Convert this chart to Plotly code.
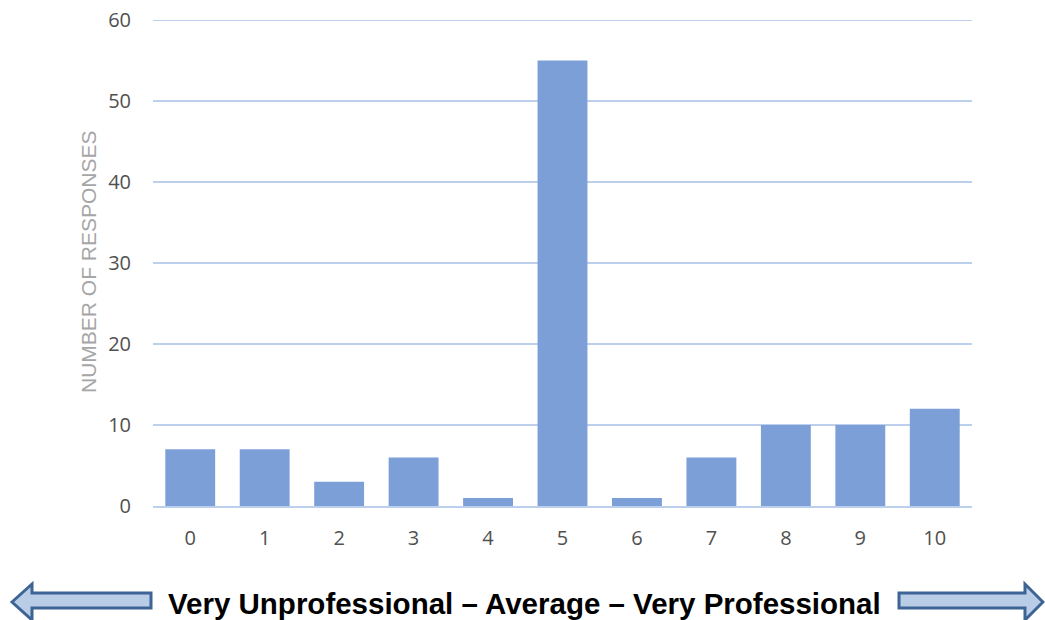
import plotly.graph_objects as go

# Rating scale and number of responses per rating
ratings = ["0", "1", "2", "3", "4", "5", "6", "7", "8", "9", "10"]
responses = [7, 7, 3, 6, 1, 55, 1, 6, 10, 10, 12]
y_ticks = [0, 10, 20, 30, 40, 50, 60]

W, H = 1045, 620
L, R, T, B = 153, 73, 20, 114
PW, PH = W - L - R, H - T - B
GRID = "#bcd0ee"


def px(x):
    return (x - L) / PW


def py(y):
    return (H - B - y) / PH


def arrow_path(points):
    pts = [f"{px(x):.5f},{py(y):.5f}" for x, y in points]
    return "M " + " L ".join(pts) + " Z"


fig = go.Figure(
    go.Bar(
        x=ratings,
        y=responses,
        marker=dict(color="#7b9fd6", line=dict(width=0)),
        hoverinfo="x+y",
    )
)

arrow_fill = "#b9cde6"
arrow_line = "#3d6494"
left_arrow = [(12, 602), (32, 584), (32, 593), (151, 593), (151, 608), (32, 608), (32, 620)]
right_arrow = [(899, 593), (1025, 593), (1025, 584), (1043, 602), (1025, 620), (1025, 608), (899, 608)]

shapes = [
    # top gridline at the end of the value range
    dict(type="line", xref="paper", yref="y", x0=0, x1=1, y0=y_ticks[-1], y1=y_ticks[-1],
         line=dict(color=GRID, width=2), layer="below"),
    dict(type="path", xref="paper", yref="paper", path=arrow_path(left_arrow),
         fillcolor=arrow_fill, line=dict(color=arrow_line, width=3)),
    dict(type="path", xref="paper", yref="paper", path=arrow_path(right_arrow),
         fillcolor=arrow_fill, line=dict(color=arrow_line, width=3)),
]

fig.update_layout(
    width=W,
    height=H,
    margin=dict(l=L, r=R, t=T, b=B),
    paper_bgcolor="white",
    plot_bgcolor="white",
    bargap=0.33,
    showlegend=False,
    font=dict(family="Open Sans, Liberation Sans, sans-serif", color="#404040"),
    xaxis=dict(
        type="category",
        automargin=False,
        showgrid=False,
        showline=True,
        linecolor=GRID,
        linewidth=2,
        tickfont=dict(size=20, color="#505050"),
        ticks="",
        ticklabelstandoff=13,
        zeroline=False,
    ),
    yaxis=dict(
        range=[0, 60],
        automargin=False,
        tickvals=y_ticks,
        showgrid=True,
        gridcolor=GRID,
        gridwidth=2,
        zeroline=False,
        showline=False,
        ticks="",
        tickfont=dict(size=20, color="#505050"),
        ticklabelstandoff=21,
    ),
    shapes=shapes,
    annotations=[
        dict(
            text="NUMBER OF RESPONSES",
            textangle=-90,
            xref="paper", yref="paper",
            x=px(88), y=py(262),
            xanchor="center", yanchor="middle",
            showarrow=False,
            font=dict(size=21, color="#a6a6a6", family="Liberation Sans, Arial, sans-serif"),
        ),
        dict(
            text="<b>Very Unprofessional – Average – Very Professional</b>",
            xref="paper", yref="paper",
            x=px(524), y=py(603),
            xanchor="center", yanchor="middle",
            showarrow=False,
            font=dict(size=29.5, color="#000000", family="Liberation Sans, Arial, sans-serif"),
        ),
    ],
)

fig.write_html("out.html")
